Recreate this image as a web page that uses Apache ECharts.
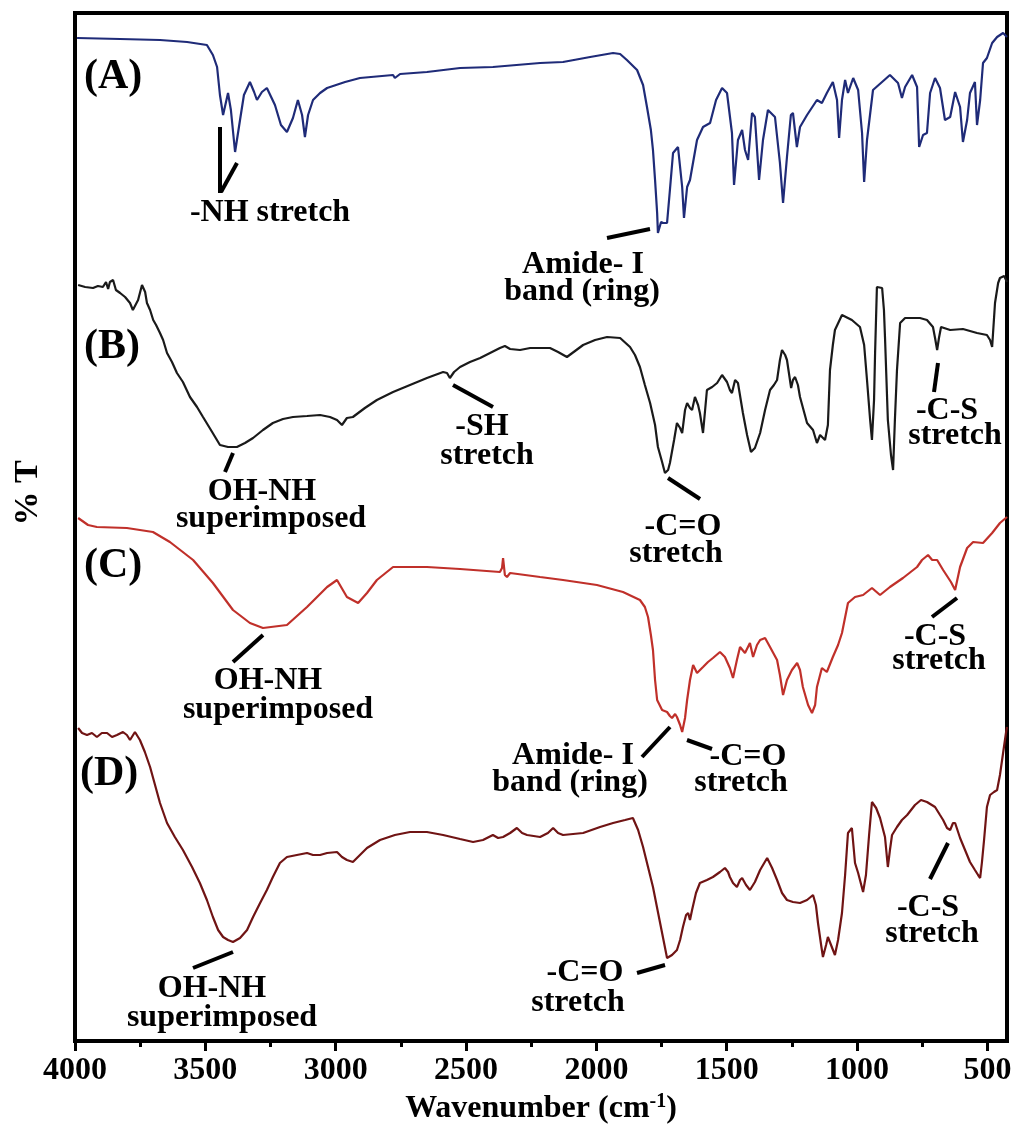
<!DOCTYPE html>
<html>
<head>
<meta charset="utf-8">
<script src="https://cdn.jsdelivr.net/npm/echarts@6/dist/echarts.min.js"></script>
<style>html,body{margin:0;padding:0;background:#fff;}#c{width:1015px;height:1143px;}</style>
</head>
<body>
<div id="c"></div>
<script>
// Wavenumber ticks
const majorTicks = [4000, 3500, 3000, 2500, 2000, 1500, 1000, 500];
const minorTicks = [3750, 3250, 2750, 2250, 1750, 1250, 750];

// Spectra: [wavenumber (cm-1), stacked %T (arbitrary offset units)]
const specA = [[3992,1003],[3827,1002],[3674,1001],[3570,999],[3494,996],[3471,986],[3455,974],[3444,946],[3432,926],[3413,948],[3402,931],[3386,889],[3367,921],[3352,946],[3329,959],[3313,949],[3302,941],[3283,949],[3264,953],[3233,936],[3210,916],[3187,909],[3164,923],[3145,941],[3129,926],[3118,904],[3106,926],[3087,941],[3060,948],[3033,953],[2964,959],[2907,963],[2780,966],[2773,963],[2753,967],[2650,969],[2523,973],[2397,974],[2216,978],[2128,979],[2024,984],[1936,988],[1909,987],[1883,981],[1844,971],[1821,956],[1806,934],[1791,911],[1783,891],[1775,861],[1767,828],[1764,808],[1752,819],[1744,818],[1729,818],[1718,851],[1706,888],[1687,894],[1671,854],[1664,823],[1652,854],[1641,861],[1614,901],[1591,914],[1564,918],[1541,941],[1518,953],[1499,948],[1480,908],[1472,856],[1457,901],[1441,911],[1430,891],[1418,881],[1403,928],[1392,924],[1376,861],[1361,901],[1342,931],[1315,924],[1296,878],[1284,838],[1269,884],[1254,926],[1246,928],[1231,894],[1219,914],[1192,926],[1154,941],[1135,938],[1116,948],[1093,959],[1077,941],[1069,903],[1058,941],[1046,961],[1035,948],[1015,963],[996,951],[981,908],[973,859],[962,901],[939,951],[874,966],[843,958],[828,943],[816,954],[789,966],[770,954],[762,894],[747,906],[732,908],[720,948],[701,963],[682,953],[663,921],[643,924],[624,949],[605,934],[594,899],[578,921],[567,948],[548,959],[540,916],[528,941],[517,978],[502,983],[482,998],[463,1004],[440,1008],[425,1004]];

const specB = [[3988,756],[3961,754],[3931,753],[3912,755],[3893,754],[3881,759],[3873,752],[3866,759],[3854,761],[3843,751],[3827,748],[3808,744],[3789,738],[3778,731],[3758,741],[3743,756],[3731,749],[3724,738],[3712,731],[3700,721],[3689,716],[3674,708],[3662,701],[3647,688],[3628,679],[3609,668],[3586,659],[3559,644],[3532,634],[3509,624],[3474,609],[3444,596],[3413,594],[3379,594],[3348,598],[3317,603],[3279,611],[3241,618],[3202,622],[3164,624],[3110,625],[3060,626],[3022,624],[2995,621],[2976,616],[2957,623],[2934,624],[2888,633],[2842,641],[2780,649],[2715,656],[2650,663],[2588,669],[2573,668],[2562,663],[2546,669],[2523,674],[2485,679],[2446,683],[2408,688],[2370,693],[2351,695],[2331,692],[2293,691],[2254,693],[2178,693],[2147,689],[2113,684],[2082,690],[2051,696],[2005,701],[1959,704],[1909,703],[1871,694],[1852,686],[1833,674],[1814,656],[1794,638],[1775,616],[1764,594],[1748,579],[1737,568],[1725,571],[1718,578],[1702,601],[1691,618],[1679,613],[1671,608],[1660,631],[1652,638],[1641,633],[1633,631],[1622,644],[1610,636],[1603,628],[1591,608],[1576,651],[1556,654],[1537,658],[1518,666],[1499,659],[1488,651],[1480,648],[1468,661],[1457,658],[1438,628],[1422,606],[1407,589],[1392,593],[1372,608],[1353,631],[1334,651],[1319,656],[1307,661],[1296,681],[1288,691],[1276,686],[1269,681],[1253,653],[1246,661],[1238,664],[1227,656],[1219,644],[1192,618],[1169,611],[1154,598],[1142,606],[1135,608],[1123,601],[1112,616],[1104,671],[1093,696],[1085,711],[1058,726],[1020,721],[989,714],[973,696],[962,661],[950,621],[943,601],[935,641],[931,688],[924,754],[904,753],[897,731],[893,704],[882,621],[870,586],[862,571],[855,621],[847,671],[835,718],[816,723],[785,723],[759,723],[732,721],[709,714],[701,703],[693,691],[686,703],[678,714],[643,711],[594,712],[540,708],[502,706],[490,701],[482,694],[471,738],[459,758],[452,763],[436,765],[425,759]];

const specC = [[3988,523],[3950,516],[3916,514],[3801,513],[3701,509],[3636,499],[3547,481],[3471,458],[3394,431],[3329,418],[3279,413],[3187,416],[3110,434],[3033,454],[2995,461],[2957,444],[2914,438],[2880,448],[2842,461],[2780,474],[2650,474],[2523,472],[2370,469],[2362,473],[2358,483],[2351,466],[2343,464],[2331,468],[2216,464],[2128,461],[1998,456],[1898,449],[1833,441],[1814,434],[1802,424],[1791,406],[1783,391],[1775,361],[1767,341],[1748,331],[1729,329],[1718,325],[1710,323],[1698,327],[1691,324],[1679,316],[1671,309],[1660,323],[1652,341],[1641,361],[1629,376],[1614,368],[1591,374],[1572,379],[1553,383],[1526,389],[1507,384],[1488,373],[1476,363],[1461,381],[1449,394],[1430,388],[1411,398],[1399,384],[1384,396],[1372,401],[1353,403],[1334,394],[1307,381],[1296,366],[1284,346],[1269,361],[1250,371],[1230,378],[1219,371],[1208,354],[1188,336],[1173,328],[1161,336],[1154,354],[1135,373],[1116,369],[1093,384],[1073,396],[1058,408],[1035,438],[1008,444],[977,446],[943,453],[912,446],[874,454],[824,463],[770,474],[751,481],[728,486],[712,481],[693,481],[670,471],[640,459],[624,451],[605,474],[578,493],[555,499],[517,498],[482,508],[452,518],[425,524]];

const specD = [[3988,313],[3973,308],[3954,306],[3935,308],[3916,304],[3897,308],[3877,308],[3858,304],[3839,306],[3816,309],[3801,306],[3789,301],[3770,309],[3751,301],[3732,289],[3712,274],[3693,256],[3674,238],[3647,218],[3617,204],[3586,191],[3551,174],[3521,158],[3494,141],[3471,124],[3451,111],[3432,104],[3413,101],[3394,99],[3367,103],[3340,111],[3317,124],[3290,138],[3264,151],[3241,164],[3214,178],[3187,184],[3149,186],[3110,188],[3087,186],[3060,186],[3033,188],[2995,189],[2976,184],[2957,181],[2934,179],[2907,186],[2880,193],[2830,201],[2773,206],[2715,209],[2650,209],[2588,206],[2523,202],[2473,199],[2435,201],[2397,206],[2377,203],[2358,204],[2331,208],[2305,213],[2285,208],[2266,206],[2216,204],[2186,208],[2166,213],[2147,208],[2128,206],[2051,208],[1986,214],[1936,218],[1890,221],[1860,223],[1840,211],[1821,194],[1802,174],[1783,154],[1764,129],[1748,108],[1729,83],[1710,86],[1691,91],[1679,101],[1668,114],[1656,126],[1648,128],[1641,121],[1633,131],[1618,148],[1603,158],[1576,161],[1553,164],[1526,169],[1507,173],[1495,169],[1488,164],[1476,158],[1461,154],[1449,161],[1441,163],[1426,156],[1411,151],[1392,159],[1372,171],[1345,183],[1326,173],[1307,161],[1288,148],[1269,141],[1246,139],[1219,138],[1192,141],[1169,146],[1158,136],[1150,118],[1138,96],[1131,84],[1119,96],[1112,104],[1100,96],[1085,86],[1073,101],[1058,128],[1046,166],[1035,208],[1020,213],[1008,178],[996,168],[989,161],[977,149],[966,166],[954,206],[943,239],[927,233],[912,223],[893,204],[882,174],[874,191],[866,206],[847,214],[828,221],[808,226],[778,236],[755,241],[732,239],[701,234],[682,226],[670,221],[655,213],[643,211],[632,218],[624,218],[605,203],[586,191],[567,179],[548,171],[536,166],[528,163],[521,179],[513,201],[502,234],[490,246],[475,249],[463,251],[452,266],[440,288],[429,308],[425,314]];

const seriesNames = ['(A)', '(B)', '(C)', '(D)'];
const seriesColors = ['#1f2b78', '#1a1a1a', '#c0302a', '#701414'];
const spectra = [specA, specB, specC, specD];

const SERIF = '"Liberation Serif", "Times New Roman", serif';
const chart = echarts.init(document.getElementById('c'), null, {renderer: 'canvas'});

function txt(text, x, y, size, align) {
  return {type: 'text', x: x, y: y, z: 100,
    style: {text: text, font: 'bold ' + (size || 32) + 'px ' + SERIF, fill: '#000',
      align: align || 'center', verticalAlign: 'middle'}};
}
function ln(x1, y1, x2, y2) {
  return {type: 'line', z: 100, shape: {x1: x1, y1: y1, x2: x2, y2: y2},
    style: {stroke: '#000', lineWidth: 4}};
}

const graphics = [
  // panel letters
  txt('(A)', 84, 77, 42, 'left'),
  txt('(B)', 84, 347, 42, 'left'),
  txt('(C)', 84, 566, 42, 'left'),
  txt('(D)', 80, 774, 42, 'left'),
  // A
  ln(220, 127, 220, 193), ln(221, 192, 237, 163),
  txt('-NH stretch', 270, 213),
  ln(607, 238, 650, 229),
  txt('Amide- I', 583, 265), txt('band (ring)', 582, 292),
  // B
  ln(233, 453, 225, 472),
  txt('OH-NH', 262, 492), txt('superimposed', 271, 519),
  ln(453, 385, 493, 407),
  txt('-SH', 482, 427), txt('stretch', 487, 456),
  ln(668, 478, 700, 499),
  txt('-C=O', 683, 527), txt('stretch', 676, 554),
  ln(938, 363, 934, 392),
  txt('-C-S', 947, 411), txt('stretch', 955, 436),
  // C
  ln(263, 635, 233, 662),
  txt('OH-NH', 268, 681), txt('superimposed', 278, 710),
  ln(957, 598, 932, 617),
  txt('-C-S', 935, 637), txt('stretch', 939, 661),
  ln(670, 727, 642, 757),
  txt('Amide- I', 573, 756), txt('band (ring)', 570, 783),
  ln(687, 740, 712, 749),
  txt('-C=O', 748, 757), txt('stretch', 741, 783),
  // D
  ln(193, 968, 233, 952),
  txt('OH-NH', 212, 989), txt('superimposed', 222, 1018),
  ln(637, 973, 665, 965),
  txt('-C=O', 585, 973), txt('stretch', 578, 1003),
  ln(948, 843, 930, 879),
  txt('-C-S', 928, 908), txt('stretch', 932, 934),
  // y axis title
  {type: 'text', x: 28, y: 493, rotation: Math.PI / 2, z: 100,
    style: {text: '% T', font: 'bold 34px ' + SERIF, fill: '#000', align: 'center', verticalAlign: 'middle'}}
];

chart.setOption({
  animation: false,
  backgroundColor: '#fff',
  grid: {left: 75, right: 8, top: 13, bottom: 102, show: true, borderColor: '#000', borderWidth: 4, backgroundColor: 'transparent'},
  xAxis: [{
    type: 'value', min: 425, max: 4000, inverse: true, position: 'bottom',
    axisLine: {show: true, onZero: false, lineStyle: {color: '#000', width: 4}},
    axisTick: {show: true, inside: false, length: 10, customValues: majorTicks, lineStyle: {color: '#000', width: 3}},
    axisLabel: {show: true, customValues: majorTicks, margin: 14, color: '#000', fontSize: 32, fontWeight: 'bold', fontFamily: SERIF,
      formatter: function (v) { return String(v); }},
    splitLine: {show: false},
    name: '{a|Wavenumber (cm}{b|-1}{a|)}',
    nameLocation: 'middle', nameGap: 50,
    nameTextStyle: {rich: {
      a: {fontSize: 32, fontWeight: 'bold', fontFamily: SERIF, color: '#000'},
      b: {fontSize: 20, fontWeight: 'bold', fontFamily: SERIF, color: '#000', padding: [0, 0, 14, 0]}
    }}
  }, {
    type: 'value', min: 425, max: 4000, inverse: true, position: 'bottom', gridIndex: 0,
    axisLine: {show: false, onZero: false},
    axisTick: {show: true, inside: false, length: 6, customValues: minorTicks, lineStyle: {color: '#000', width: 3}},
    axisLabel: {show: false},
    splitLine: {show: false}
  }],
  yAxis: {type: 'value', min: 0, max: 1028, show: false, splitLine: {show: false}},
  series: spectra.map((s, i) => ({
    name: seriesNames[i], type: 'line', xAxisIndex: 0, data: s, showSymbol: false, symbol: 'none',
    lineStyle: {color: seriesColors[i], width: 2.2}, itemStyle: {color: seriesColors[i]}, z: 2
  })),
  graphic: graphics
});
</script>
</body>
</html>
